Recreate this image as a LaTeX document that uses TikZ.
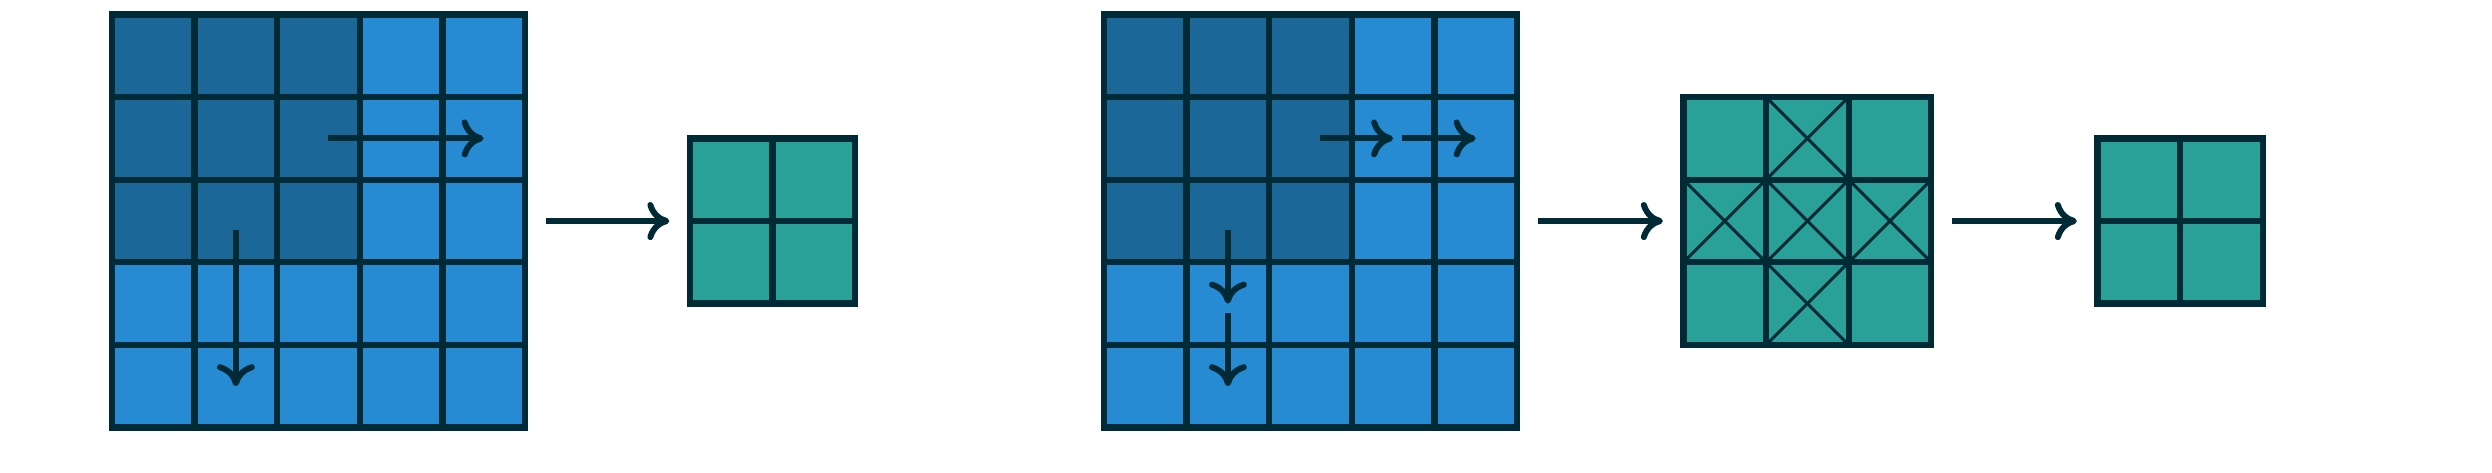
\documentclass[tikz,border=0pt]{standalone}
\usepackage{tikz}
\usetikzlibrary{arrows.meta,calc}
\definecolor{base03}{HTML}{002B36}
\definecolor{solblue}{HTML}{268BD2}
\definecolor{darkblue}{HTML}{1B6898}
\definecolor{solcyan}{HTML}{2AA198}
\tikzset{>={To[length=2.2mm,width=3.8mm]}}
\tikzstyle{cell}=[rectangle,draw=base03,line width=0.63mm,minimum width=8.26mm,minimum height=8.26mm,inner sep=0pt,outer sep=0pt]
\tikzstyle{featcell}=[cell,fill=solcyan]
\tikzstyle{frame}=[rectangle,draw=base03,line width=0.63mm,inner sep=0pt]
\tikzstyle{cross}=[draw=base03,line width=0.3mm]
\tikzstyle{move}=[->,draw=base03,line width=0.6mm]

\begin{document}
\begin{tikzpicture}
\def \cell {0.826};
\def \midy {-2.21};

\useasboundingbox (0,0) rectangle (24.92,-4.72);

% input maps with the 3x3 window
\foreach \g/\x in {L/1.12, R/11.04} {
	\foreach \i in {1,...,5} {
		\foreach \j in {1,...,5} {
			\pgfmathtruncatemacro{\inwin}{and(\i<4,\j<4)};
			\ifnum\inwin=1 \def\col{darkblue}\else\def\col{solblue}\fi
			\node[cell,fill=\col] (\g-\i-\j)
			at ({\x + (\j-0.5)*\cell}, {-0.145 - (\i-0.5)*\cell}) {};
		};
	};
	\node[frame,minimum width=5*\cell cm,minimum height=5*\cell cm] (\g)
	at ({\x + 2.5*\cell}, \midy) {};
};

% 2x2 outputs
\foreach \g/\x in {A/6.90, B/20.975} {
	\foreach \i in {1,2} {
		\foreach \j in {1,2} {
			\node[featcell] (\g-\i-\j)
			at ({\x + (\j-0.5)*\cell}, {\midy + \cell - (\i-0.5)*\cell}) {};
		};
	};
	\node[frame,minimum width=2*\cell cm,minimum height=2*\cell cm] (\g)
	at ({\x + \cell}, \midy) {};
};

% 3x3 output with overlapping cells
\foreach \i in {1,2,3} {
	\foreach \j in {1,2,3} {
		\node[featcell] (T-\i-\j)
		at ({16.835 + (\j-0.5)*\cell}, {\midy + 1.5*\cell - (\i-0.5)*\cell}) {};
	};
};
\node[frame,minimum width=3*\cell cm,minimum height=3*\cell cm] (T)
at ({16.835 + 1.5*\cell}, \midy) {};

\foreach \c in {1-2,2-1,2-2,2-3,3-2} {
	\draw[cross] (T-\c.north west) -- (T-\c.south east);
	\draw[cross] (T-\c.north east) -- (T-\c.south west);
};

% stride 2
\draw[move,shorten <=0.09cm] (L-2-3.center) -- (L-2-5.center);
\draw[move,shorten <=0.09cm] (L-3-2.center) -- (L-5-2.center);

% stride 1
\foreach \a/\b in {3/4,4/5} {
	\draw[move,shorten <=0.09cm] (R-2-\a.center) -- (R-2-\b.center);
	\draw[move,shorten <=0.09cm] (R-\a-2.center) -- (R-\b-2.center);
};

\draw[move,shorten <=0.175cm,shorten >=0.175cm] (L) -- (A);
\draw[move,shorten <=0.175cm,shorten >=0.175cm] (R) -- (T);
\draw[move,shorten <=0.175cm,shorten >=0.175cm] (T) -- (B);

\end{tikzpicture}
\end{document}
